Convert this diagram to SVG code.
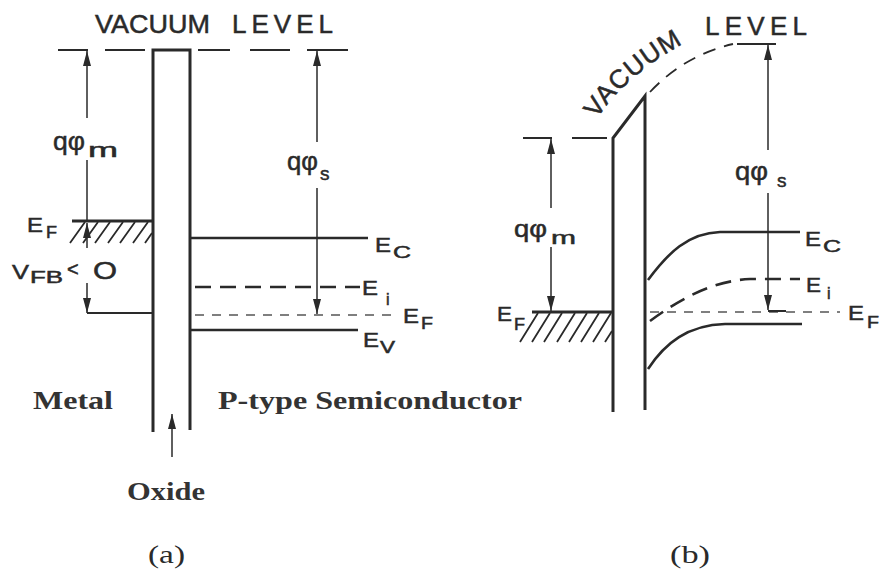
<svg xmlns="http://www.w3.org/2000/svg" width="883" height="575" viewBox="0 0 883 575">
<defs>
<marker id="ah" viewBox="0 0 15 8" refX="15" refY="4" markerWidth="15" markerHeight="8" markerUnits="userSpaceOnUse" orient="auto-start-reverse">
<path d="M0 0 L15 4 L0 8 z" fill="#2a2a2a"/>
</marker>
<path id="vacArc" d="M597 119 Q627 73 690 40" fill="none"/>
</defs>
<style>
.ln{stroke:#2a2a2a;fill:none;stroke-width:2}
.thk{stroke:#2a2a2a;fill:none;stroke-width:3}
.band{stroke:#2a2a2a;fill:none;stroke-width:2.6}
.dsh{stroke:#2a2a2a;fill:none;stroke-width:2.6;stroke-dasharray:16 9}
.fdsh{stroke:#555;fill:none;stroke-width:1.6;stroke-dasharray:9 8}
.vdsh{stroke:#2a2a2a;fill:none;stroke-width:1.8;stroke-dasharray:13 9}
.arr{stroke:#2a2a2a;fill:none;stroke-width:1.5}
.hat{stroke:#2a2a2a;fill:none;stroke-width:1.8}
.t{font-family:"Liberation Sans",Arial,sans-serif;fill:#2a2a2a;stroke:#2a2a2a;stroke-width:0.5}
.big{font-size:26px}
.lab{font-size:21px}
.sub{font-size:16px}
.bs{font-family:"Liberation Serif","Times New Roman",serif;font-weight:bold;fill:#333;font-size:25px}
.rs{font-family:"Liberation Serif","Times New Roman",serif;fill:#2a2a2a;font-size:25px}
</style>
<rect width="883" height="575" fill="#ffffff"/>

<!-- Panel (a) -->
<g id="a-vacuum">
<path class="ln" d="M58 50 H88 M105 50 H145 M198 50 H230 M250 50 H290 M307 50 H348"/>
<text class="t big" x="95" y="33" textLength="115" lengthAdjust="spacingAndGlyphs">VACUUM</text>
<text class="t big" x="232" y="33" textLength="101" lengthAdjust="spacing">LEVEL</text>
</g>
<g id="a-oxide">
<path class="thk" d="M153 432 V50 H190 V430"/>
</g>
<g id="a-metal">
<path class="thk" d="M72 221 H153"/>
<path class="hat" d="M70 243 L85 222 M83 243 L98 222 M95 243 L110 222 M108 243 L123 222 M120 243 L135 222 M133 243 L148 222 M145 243 L152 233"/>
<path class="ln" d="M87 313 H153"/>
<text class="t lab" x="27" y="232" textLength="16" lengthAdjust="spacingAndGlyphs">E</text>
<text class="t sub" x="46" y="238" textLength="11" lengthAdjust="spacingAndGlyphs">F</text>
<text class="t lab" x="12" y="279" textLength="17" lengthAdjust="spacingAndGlyphs">V</text>
<text class="t sub" x="30" y="283" textLength="33" lengthAdjust="spacingAndGlyphs">FB</text>
<text class="t" style="font-size:20px" x="67" y="276">&lt;</text>
<text class="t" style="font-size:23px" x="93" y="279" textLength="24" lengthAdjust="spacingAndGlyphs">O</text>
</g>
<g id="a-semi">
<path class="band" d="M190 238 H368"/>
<path class="dsh" d="M195 287 H360"/>
<path class="fdsh" d="M195 315 H398"/>
<path class="band" d="M190 330 H358"/>
<text class="t lab" x="375" y="252" textLength="16" lengthAdjust="spacingAndGlyphs">E</text>
<text class="t" style="font-size:17px" x="393" y="258" textLength="18" lengthAdjust="spacingAndGlyphs">C</text>
<text class="t lab" x="362" y="295" textLength="16" lengthAdjust="spacingAndGlyphs">E</text>
<text class="t sub" x="386" y="305">i</text>
<text class="t lab" x="403" y="323" textLength="16" lengthAdjust="spacingAndGlyphs">E</text>
<text class="t sub" x="421" y="329" textLength="12" lengthAdjust="spacingAndGlyphs">F</text>
<text class="t lab" x="363" y="347" textLength="16" lengthAdjust="spacingAndGlyphs">E</text>
<text class="t sub" x="380" y="353" textLength="15" lengthAdjust="spacingAndGlyphs">V</text>
</g>
<g id="a-labels">
<text class="t big" x="53" y="150" textLength="32" lengthAdjust="spacingAndGlyphs">qφ</text>
<text class="t" style="font-size:20px" x="88" y="157" textLength="30" lengthAdjust="spacingAndGlyphs">m</text>
<text class="t big" x="287" y="170" textLength="31" lengthAdjust="spacingAndGlyphs">qφ</text>
<text class="t" style="font-size:19px" x="320" y="180">s</text>
<text class="bs" x="33" y="409" textLength="80" lengthAdjust="spacingAndGlyphs">Metal</text>
<text class="bs" x="218" y="409" textLength="304" lengthAdjust="spacingAndGlyphs">P-type Semiconductor</text>
<text class="bs" x="127" y="500" textLength="78" lengthAdjust="spacingAndGlyphs">Oxide</text>
<text class="rs" x="148" y="563" textLength="37" lengthAdjust="spacingAndGlyphs">(a)</text>
</g>

<!-- Panel (b) -->
<g id="b-vacuum">
<path class="ln" d="M523 138 H552 M572 138 H607"/>
<path class="vdsh" d="M650 92 Q685 55 733 44"/>
<path class="ln" d="M737 44 H776"/>
<text class="t big"><textPath href="#vacArc" textLength="115" lengthAdjust="spacing">VACUUM</textPath></text>
<text class="t big" x="705" y="35" textLength="102" lengthAdjust="spacing">LEVEL</text>
</g>
<g id="b-oxide">
<path class="thk" d="M613 412 V138 L645 96 V410"/>
</g>
<g id="b-metal">
<path class="thk" d="M532 312 H613"/>
<path class="hat" d="M520 342 L538 313 M532 342 L550 313 M544 342 L562 313 M557 342 L575 313 M569 342 L587 313 M581 342 L599 313 M593 342 L611 313 M605 342 L612 331"/>
<text class="t lab" x="497" y="321" textLength="15" lengthAdjust="spacingAndGlyphs">E</text>
<text class="t sub" x="514" y="330" textLength="11" lengthAdjust="spacingAndGlyphs">F</text>
<text class="t" style="font-size:23px" x="514" y="237" textLength="33" lengthAdjust="spacingAndGlyphs">qφ</text>
<text class="t" style="font-size:19px" x="551" y="244" textLength="25" lengthAdjust="spacingAndGlyphs">m</text>
</g>
<g id="b-semi">
<path class="band" d="M648 280 C668 253 688 233 720 232 L800 232"/>
<path class="dsh" d="M650 321 C680 299 712 281 750 279 L800 279"/>
<path class="fdsh" d="M650 312 H840"/>
<path class="band" d="M648 369 C665 343 688 325 725 324 L802 324"/>
<path class="ln" d="M768 311 H786"/>
<text class="t lab" x="805" y="246" textLength="16" lengthAdjust="spacingAndGlyphs">E</text>
<text class="t" style="font-size:17px" x="823" y="252" textLength="18" lengthAdjust="spacingAndGlyphs">C</text>
<text class="t lab" x="806" y="292" textLength="15" lengthAdjust="spacingAndGlyphs">E</text>
<text class="t sub" x="827" y="299">i</text>
<text class="t lab" x="848" y="320" textLength="16" lengthAdjust="spacingAndGlyphs">E</text>
<text class="t sub" x="867" y="328" textLength="12" lengthAdjust="spacingAndGlyphs">F</text>
<text class="t big" x="735" y="180" textLength="33" lengthAdjust="spacingAndGlyphs">qφ</text>
<text class="t" style="font-size:19px" x="777" y="187">s</text>
<text class="rs" x="670" y="563" textLength="40" lengthAdjust="spacingAndGlyphs">(b)</text>
</g>

<!-- connectors: dimension arrows -->
<g id="connectors">
<path class="arr" d="M87 51 V118" marker-start="url(#ah)"/>
<path class="arr" d="M87 160 V221"/>
<path class="arr" d="M87 248 V223" marker-end="url(#ah)"/>
<path class="arr" d="M87 283 V313" marker-end="url(#ah)"/>
<path class="arr" d="M317 51 V142" marker-start="url(#ah)"/>
<path class="arr" d="M317 188 V314" marker-end="url(#ah)"/>
<path class="arr" d="M172 457 V414" marker-end="url(#ah)"/>
<path class="arr" d="M551 139 V208" marker-start="url(#ah)"/>
<path class="arr" d="M551 247 V311" marker-end="url(#ah)"/>
<path class="arr" d="M768 45 V150" marker-start="url(#ah)"/>
<path class="arr" d="M768 193 V310" marker-end="url(#ah)"/>
</g>
</svg>
